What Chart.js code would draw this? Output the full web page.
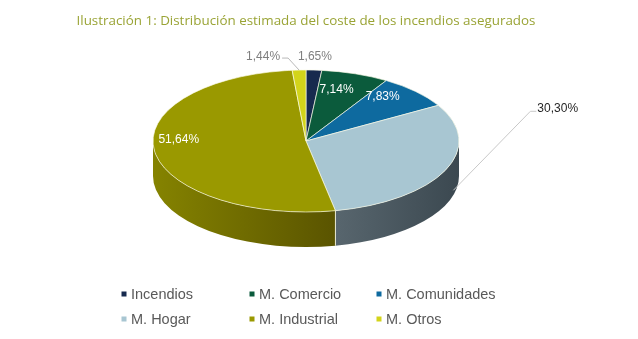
<!DOCTYPE html>
<html>
<head>
<meta charset="utf-8">
<script src="https://cdn.jsdelivr.net/npm/chart.js@4.4.1/dist/chart.umd.min.js"></script>
<style>
  html, body { margin: 0; padding: 0; background: #fff; }
  #grafico { display: block; }
</style>
</head>
<body>
<canvas id="grafico" width="638" height="339"></canvas>
<script>
// datos
const titulo = 'Ilustración 1: Distribución estimada del coste de los incendios asegurados';
const categorias = ['Incendios', 'M. Comercio', 'M. Comunidades', 'M. Hogar', 'M. Industrial', 'M. Otros'];
const porcentajes = [1.65, 7.14, 7.83, 30.30, 51.64, 1.44];

// estilos
const colores = ['#172a4e', '#0b5b3c', '#0e6a9f', '#a8c6d2', '#9a9900', '#d3d41a'];
const coloresLado = [
    ['#13233f', '#0c1830'],
    ['#0a4c32', '#063a26'],
    ['#0b5883', '#084466'],
    ['#58666e', '#3b4850'],
    ['#858300', '#5a5400'],
    ['#a9aa12', '#8a8a0c']
];
const etiquetas = ['arriba', 'dentro', 'dentro', 'derecha', 'dentro', 'izquierda'];
const fraccionEtiqueta = [0, 0.62, 0.7, 0, 0.84, 0];

// geometria de la tarta en perspectiva
const CENTRO_Y = 141;
const RADIO_Y = 71;
const GROSOR = 35;

const fmt = v => v.toFixed(2).replace('.', ',') + '%';

const tarta3d = {
    id: 'tarta3d',
    beforeDatasetsDraw(chart) {
        const ctx = chart.ctx;
        const arcs = chart.getDatasetMeta(0).data;
        const cx = arcs[0].x, cy0 = arcs[0].y, r = arcs[0].outerRadius;

        // lateral del cilindro (solo la mitad delantera es visible)
        arcs.forEach((arc, i) => {
            const lo = Math.max(arc.startAngle, 0);
            const hi = Math.min(arc.endAngle, Math.PI);
            if (lo >= hi) return;
            const xIzq = cx + r * Math.cos(hi), xDer = cx + r * Math.cos(lo);
            const grad = ctx.createLinearGradient(xIzq, 0, xDer, 0);
            grad.addColorStop(0, coloresLado[i][0]);
            grad.addColorStop(1, coloresLado[i][1]);
            ctx.beginPath();
            ctx.ellipse(cx, CENTRO_Y, r, RADIO_Y, 0, lo, hi);
            ctx.ellipse(cx, CENTRO_Y + GROSOR, r, RADIO_Y, 0, hi, lo, true);
            ctx.closePath();
            ctx.fillStyle = grad;
            ctx.fill();
        });
        ctx.strokeStyle = 'rgba(250,250,230,0.85)';
        ctx.lineWidth = 1;
        arcs.forEach(arc => {
            const b = arc.endAngle;
            if (b <= 0 || b >= Math.PI) return;
            const x = cx + r * Math.cos(b), y = CENTRO_Y + RADIO_Y * Math.sin(b);
            ctx.beginPath();
            ctx.moveTo(x, y);
            ctx.lineTo(x, y + GROSOR);
            ctx.stroke();
        });

        // cara superior: la tarta de Chart.js aplastada en elipse
        ctx.save();
        ctx.translate(cx, CENTRO_Y);
        ctx.scale(1, RADIO_Y / r);
        ctx.translate(-cx, -cy0);
    },
    afterDatasetsDraw(chart) {
        const ctx = chart.ctx;
        ctx.restore();

        const arcs = chart.getDatasetMeta(0).data;
        const cx = arcs[0].x, r = arcs[0].outerRadius;
        ctx.save();
        ctx.font = '12px "Liberation Sans", Arial, sans-serif';
        ctx.textBaseline = 'middle';
        arcs.forEach((arc, i) => {
            const m = (arc.startAngle + arc.endAngle) / 2;
            const txt = fmt(porcentajes[i]);
            const bx = cx + r * Math.cos(m), by = CENTRO_Y + RADIO_Y * Math.sin(m);
            if (etiquetas[i] === 'dentro') {
                const f = fraccionEtiqueta[i];
                ctx.fillStyle = '#ffffff';
                ctx.textAlign = 'center';
                ctx.fillText(txt, cx + f * r * Math.cos(m), CENTRO_Y - 10 + f * RADIO_Y * Math.sin(m));
            } else if (etiquetas[i] === 'arriba') {
                ctx.fillStyle = '#7f7f7f';
                ctx.textAlign = 'center';
                ctx.fillText(txt, bx + 1, by - 13);
            } else if (etiquetas[i] === 'izquierda') {
                ctx.strokeStyle = '#b8b8b8';
                ctx.lineWidth = 1;
                ctx.beginPath();
                ctx.moveTo(bx, by);
                ctx.lineTo(bx - 11, by - 12);
                ctx.lineTo(bx - 17, by - 12);
                ctx.stroke();
                ctx.fillStyle = '#7f7f7f';
                ctx.textAlign = 'right';
                ctx.fillText(txt, bx - 19, by - 13);
            } else {
                const sx = bx + 8, sy = by + 20;
                ctx.strokeStyle = '#c8c8c8';
                ctx.lineWidth = 1;
                ctx.beginPath();
                ctx.moveTo(sx, sy);
                ctx.lineTo(sx + 77, sy - 79);
                ctx.lineTo(sx + 83, sy - 79);
                ctx.stroke();
                ctx.fillStyle = '#262626';
                ctx.textAlign = 'left';
                ctx.fillText(txt, sx + 84, sy - 82);
            }
        });
        ctx.restore();
    },
    afterDraw(chart) {
        const ctx = chart.ctx;
        ctx.save();
        // titulo
        ctx.font = '13.4px "Open Sans", sans-serif';
        ctx.fillStyle = '#9aa436';
        ctx.textAlign = 'center';
        ctx.textBaseline = 'middle';
        ctx.fillText(titulo, 306, 21);

        // leyenda en rejilla de 3 columnas
        const colX = [124, 252, 379];
        const filaY = [294, 319];
        ctx.textAlign = 'left';
        ctx.font = '14.5px "Liberation Sans", Arial, sans-serif';
        categorias.forEach((c, i) => {
            const x = colX[i % 3], y = filaY[Math.floor(i / 3)];
            ctx.fillStyle = colores[i];
            ctx.fillRect(x - 2.5, y - 2.5, 5, 5);
            ctx.fillStyle = '#595959';
            ctx.fillText(c, x + 7, y + 1);
        });
        ctx.restore();
    }
};

new Chart(document.getElementById('grafico'), {
    type: 'pie',
    data: {
        labels: categorias,
        datasets: [{
            data: porcentajes,
            backgroundColor: colores,
            borderColor: 'rgba(250,250,230,0.9)',
            borderWidth: 1,
            radius: 153,
            clip: false
        }]
    },
    options: {
        responsive: false,
        animation: false,
        devicePixelRatio: 1,
        layout: { padding: { left: 153, right: 179, top: 0, bottom: 0 } },
        plugins: {
            legend: { display: false },
            tooltip: { enabled: false }
        }
    },
    plugins: [tarta3d]
});
</script>
</body>
</html>
